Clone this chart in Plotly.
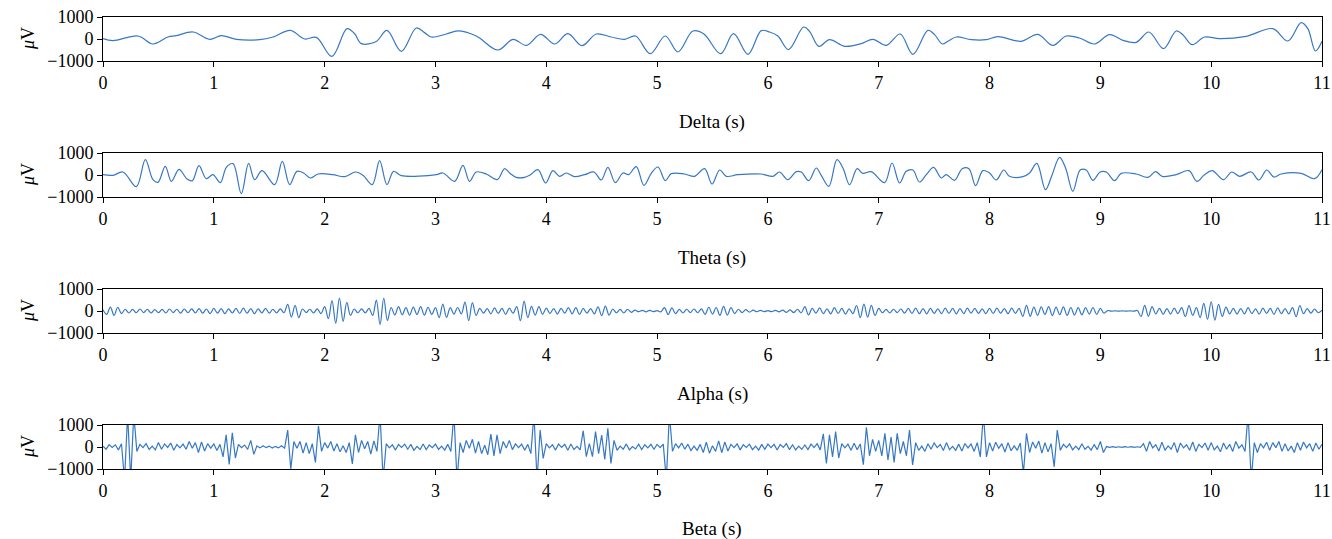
import plotly.graph_objects as go

# ---------------- data ----------------
delta_t = [0.00,0.09,0.316,0.451,0.586,0.662,0.812,0.962,1.068,1.203,1.414,1.534,1.690,1.820,1.925,2.066,2.202,2.271,2.331,2.466,2.562,2.692,2.827,2.902,2.962,3.098,3.203,3.368,3.564,
           3.699,3.820,3.949,4.075,4.195,4.322,4.451,4.586,4.707,4.806,4.938,5.074,5.188,5.323,5.423,5.573,5.690,5.820,5.940,6.015,6.090,6.186,6.322,6.376,6.460,6.556,6.692,6.842,6.947,7.068,7.194,7.308,
           7.444,7.504,7.574,7.624,7.699,7.835,7.970,8.075,8.286,8.436,8.571,8.692,8.812,8.947,9.083,9.203,9.323,9.438,9.570,9.684,9.744,9.829,9.940,10.075,10.316,10.556,10.692,10.812,10.872,10.941,11.0]
delta_v = [15,-76,136,-227,91,150,318,-15,152,-15,-30,90,395,0,75,-790,470,240,-210,-110,395,-560,500,290,90,227,365,135,-500,
           -15,-290,212,-227,242,-303,227,90,-15,136,-667,136,-590,365,227,-667,242,-697,380,318,136,-485,545,348,-333,-30,-333,-212,-15,-290,227,-697,
           395,197,-227,-106,90,-30,-30,106,-106,212,-290,136,45,-227,197,-60,-150,318,-440,365,197,-258,90,15,121,470,-91,742,470,-545,-106]

theta_t = [0.000,0.090,0.180,0.301,0.382,0.451,0.496,0.562,0.617,0.686,0.758,0.806,0.866,0.932,0.992,1.059,1.113,1.173,1.248,1.314,1.368,1.435,1.549,1.618,1.684,1.750,1.810,1.871,1.940,2.075,2.180,2.280,2.346,2.430,2.496,2.562,2.622,2.692,3.008,3.068,3.173,3.248,3.308,3.368,3.459,3.558,3.624,
           3.669,3.729,3.805,3.850,3.925,3.994,4.060,4.120,4.180,4.256,4.346,4.430,4.496,4.556,4.623,4.692,4.743,4.812,4.881,4.947,5.008,5.074,5.128,5.248,5.338,5.429,5.496,5.565,5.626,5.729,5.940,6.045,6.105,6.180,6.256,6.301,6.368,6.436,6.481,6.550,6.623,6.677,6.737,6.805,6.857,6.932,7.053,7.120,7.188,7.248,7.308,
           7.368,7.429,7.495,7.564,7.609,7.684,7.753,7.814,7.874,7.940,8.000,8.060,8.129,8.180,8.301,8.361,8.427,8.505,8.565,8.632,8.686,8.752,8.818,8.872,8.932,8.998,9.053,9.128,9.188,9.323,9.429,9.498,9.558,9.684,9.799,9.871,9.940,10.009,10.111,10.186,10.256,10.361,10.430,10.502,10.565,10.632,10.812,10.932,11.0]
theta_v = [15,-15,136,-530,697,-212,-333,394,-288,258,-182,-258,424,-167,15,-348,348,515,-848,530,-212,197,-440,621,-440,167,91,-136,45,15,-76,136,-15,-440,651,-440,167,-30,15,91,-288,439,-288,136,45,-212,288,
           91,-106,-106,-15,242,-364,197,-60,91,-76,15,136,-227,348,-348,91,15,379,-470,76,364,-258,61,45,-60,288,-409,227,-60,15,45,-60,136,-212,152,136,-258,318,-15,-515,697,318,-440,288,76,152,-348,545,-364,167,227,
           -318,15,348,-136,15,-242,288,288,-485,197,91,-227,227,-60,-76,91,530,-667,15,803,318,-742,227,227,-242,136,136,-258,76,45,-106,152,-60,15,197,-288,15,197,-212,136,-60,136,-227,227,-91,45,76,-167,242]

# alpha: successive peaks/troughs, one every 1/30 s
alpha_step = 1 / 30
alpha_v = [
    60,-150,180,-200,170,-120,80,-90,70,-80,90,-70,80,-90,60,-80,70,-90,90,-70,80,-100,90,-80,100,-90,110,-100,90,-120,
    120,-100,110,-120,100,-90,120,-110,130,-100,110,-120,100,-90,120,-100,80,-90,100,-80,300,-280,260,-300,90,-70,80,-90,100,-120,
    200,-350,470,-560,590,-470,390,-200,90,-80,100,-90,120,-200,500,-620,590,-440,160,-180,200,-170,150,-190,180,-160,200,-190,170,-150,
    150,-300,310,-290,150,-140,160,-130,400,-440,380,-200,120,-100,110,-130,140,-110,120,-150,130,-100,200,-440,450,-300,210,-190,200,-150,
    130,-120,110,-140,120,-100,150,-130,150,-160,120,-100,110,-130,190,-210,220,-190,90,-80,70,-90,80,-60,40,-30,30,-40,30,-30,
    20,-40,150,-160,140,-120,70,-90,80,-70,90,-80,100,-150,170,-140,160,-200,210,-190,150,-120,80,-70,60,-50,40,-30,30,-30,
    20,-30,30,-40,40,-60,50,-70,80,-90,200,-180,120,-100,140,-120,100,-130,150,-110,120,-140,100,-120,250,-300,310,-280,260,-200,
    120,-80,70,-90,80,-70,90,-100,120,-110,130,-120,110,-130,120,-110,100,-120,130,-110,120,-130,110,-120,130,-100,120,-110,100,-120,
    120,-110,130,-100,110,-120,130,-110,120,-250,260,-240,180,-200,190,-160,200,-210,180,-170,190,-200,160,-180,150,-170,150,-140,160,-150,
    120,-100,20,-10,10,-10,10,-10,10,-10,20,-250,260,-240,200,-130,120,-150,110,-140,130,-120,150,-250,240,-200,150,-300,350,-380,
    420,-420,300,-250,180,-130,120,-140,110,-130,150,-120,100,-140,130,-110,120,-150,140,-120,110,-130,150,-260,250,-120,110,-100,90,-80,40,
]

# beta: successive peaks/troughs, one every 1/36 s
beta_step = 1 / 36
beta_v = [
    40,-100,110,-20,100,-130,150,-1500,1500,-1500,1500,-200,120,-30,150,-110,40,-130,200,-100,140,-20,180,-150,110,-40,130,-100,250,-60,200,-250,230,-180,150,-50,
    140,-160,120,-450,550,-790,650,-500,120,-30,90,-110,300,-330,50,-40,60,-30,40,-50,30,-40,60,-50,770,-1000,250,-60,250,-280,200,-300,150,-700,950,-200,
    200,-50,250,-180,150,-220,60,-250,200,-770,550,-250,300,-80,250,-320,280,-200,1500,-1500,150,-40,100,-140,110,-20,130,-100,120,-150,30,-110,140,-120,90,-30,
    130,-110,40,-140,120,-200,1500,-1500,200,-250,300,-60,350,-280,250,-300,80,-350,590,-400,550,-300,250,-50,300,-120,140,-30,130,-150,120,-300,1500,-1500,770,-520,
    150,-40,100,-140,130,-20,120,-150,140,-110,30,-130,740,-440,150,-440,700,-300,545,-560,850,-750,300,-150,40,-100,140,-130,20,-90,130,-120,100,-40,120,-100,
    120,-30,130,-1500,1500,-200,150,-40,180,-100,130,-160,40,-150,120,-250,220,-280,60,-200,280,-260,230,-180,120,-30,140,-130,110,-20,130,-120,40,-140,120,-110,
    130,-30,120,-140,110,-20,150,-120,100,-130,40,-110,90,-120,130,-30,150,-130,600,-750,550,-450,700,-500,150,-40,130,-150,170,-120,140,-800,900,-400,350,-200,
    300,-400,620,-590,450,-700,620,-300,250,-400,770,-820,200,-150,40,-200,150,-100,180,-30,110,-160,200,-120,30,-150,130,-180,160,-40,140,-200,200,-450,1500,-450,
    200,-180,220,-60,150,-230,200,-170,50,-150,180,-1200,620,-250,230,-60,270,-280,200,-220,150,-900,770,-150,120,-30,140,-130,40,-120,150,-100,30,-140,110,-120,
    250,-250,20,-15,15,-20,10,-15,20,-10,15,-20,10,-20,150,-200,250,-40,100,-180,220,-150,50,-100,200,-250,180,-40,100,-150,230,-200,120,-30,180,-150,
    200,-130,40,-220,180,-100,120,-200,250,-50,100,-200,1500,-1500,200,-250,150,-40,220,-150,200,-30,250,-200,150,-180,40,-250,200,-150,230,-40,150,-200,180,-100,120,
]

alpha_t = [k * alpha_step for k in range(len(alpha_v))]
beta_t = [k * beta_step for k in range(len(beta_v))]

band_names = ["Delta (s)", "Theta (s)", "Alpha (s)", "Beta (s)"]
x_ticks = list(range(0, 12))
y_ticks = [-1000, 0, 1000]

# ---------------- figure ----------------
W, H = 1332, 539
ML, MR, MT, MB = 103, 10, 17, 70
plot_w = W - ML - MR
plot_h = H - MT - MB
panel_tops = [17, 153, 289, 425]
panel_h = 44
title_y_px = [122, 258, 394, 529]

def py(px):
    return (H - MB - px) / plot_h

def pxf(px):
    return (px - ML) / plot_w

line_color = "#3778c4"
font_family = "Liberation Serif, Times New Roman, serif"
font_size = 18

series = [(delta_t, delta_v, "spline"), (theta_t, theta_v, "spline"),
          (alpha_t, alpha_v, "spline"), (beta_t, beta_v, "linear")]

fig = go.Figure()
annotations = []
layout_axes = {}
for i, (t, v, shape) in enumerate(series):
    n = "" if i == 0 else str(i + 1)
    fig.add_trace(go.Scatter(x=t, y=v, mode="lines",
                             line=dict(color=line_color, width=1.2, shape=shape),
                             xaxis="x" + n, yaxis="y" + n, showlegend=False,
                             hoverinfo="skip"))
    top = panel_tops[i]
    dom = [py(top + panel_h), py(top)]
    layout_axes["xaxis" + n] = dict(
        domain=[0, 1], anchor="y" + n, range=[0, 11], tickvals=x_ticks,
        automargin=False,
        ticks="outside", ticklen=5, tickcolor="black", showline=True,
        linecolor="black", linewidth=1, mirror=True, showgrid=False,
        zeroline=False, tickfont=dict(family=font_family, size=font_size, color="black"))
    layout_axes["yaxis" + n] = dict(
        domain=dom, anchor="x" + n, range=[-1000, 1000], tickvals=y_ticks,
        automargin=False,
        ticks="outside", ticklen=5, tickcolor="black", showline=True,
        linecolor="black", linewidth=1, mirror=True, showgrid=False,
        zeroline=False, tickfont=dict(family=font_family, size=font_size, color="black"))
    annotations.append(dict(text=band_names[i], xref="paper", yref="paper",
                            x=pxf(712), y=py(title_y_px[i]), showarrow=False,
                            xanchor="center", yanchor="middle",
                            font=dict(family=font_family, size=font_size + 1, color="black")))
    annotations.append(dict(text="<i>μ</i>V", xref="paper", yref="paper",
                            x=pxf(28), y=py(top + panel_h / 2),
                            showarrow=False, textangle=-90,
                            xanchor="center", yanchor="middle",
                            font=dict(family=font_family, size=font_size, color="black")))

fig.update_layout(width=W, height=H, margin=dict(l=ML, r=MR, t=MT, b=MB, autoexpand=False),
                  paper_bgcolor="white", plot_bgcolor="white",
                  annotations=annotations, **layout_axes)

fig.write_html("out.html")
